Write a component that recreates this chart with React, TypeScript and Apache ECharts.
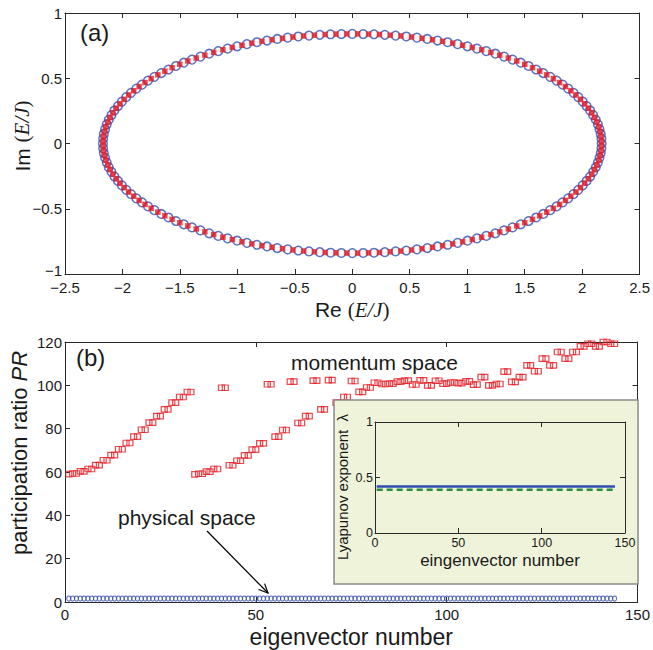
import React, { useEffect, useRef } from "react";
import * as echarts from "echarts";

// ---------- Panel (a): eigenvalues in the complex plane (Re, Im) ----------
const ellipseCircles: [number, number][] = [
  [2.170,0.000],[2.168,0.037],[2.162,0.073],[2.151,0.110],[2.137,0.146],[2.119,0.182],[2.096,0.217],[2.070,0.253],[2.039,0.287],[2.005,0.321],[1.967,0.355],[1.925,0.388],[1.879,0.420],[1.830,0.451],[1.778,0.482],[1.722,0.511],[1.662,0.540],[1.600,0.567],[1.534,0.594],[1.466,0.619],[1.395,0.643],[1.321,0.666],[1.245,0.688],[1.166,0.708],[1.085,0.727],[1.002,0.745],[0.917,0.761],[0.830,0.776],[0.742,0.789],[0.653,0.801],[0.562,0.811],[0.470,0.820],[0.377,0.827],[0.283,0.833],[0.189,0.837],[0.095,0.839],
  [0.000,0.840],[-0.095,0.839],[-0.189,0.837],[-0.283,0.833],[-0.377,0.827],[-0.470,0.820],[-0.562,0.811],[-0.653,0.801],[-0.742,0.789],[-0.830,0.776],[-0.917,0.761],[-1.002,0.745],[-1.085,0.727],[-1.166,0.708],[-1.245,0.688],[-1.321,0.666],[-1.395,0.643],[-1.466,0.619],[-1.534,0.594],[-1.600,0.567],[-1.662,0.540],[-1.722,0.511],[-1.778,0.482],[-1.830,0.451],[-1.879,0.420],[-1.925,0.388],[-1.967,0.355],[-2.005,0.321],[-2.039,0.287],[-2.070,0.253],[-2.096,0.217],[-2.119,0.182],[-2.137,0.146],[-2.151,0.110],[-2.162,0.073],[-2.168,0.037],
  [-2.170,0.000],[-2.168,-0.037],[-2.162,-0.073],[-2.151,-0.110],[-2.137,-0.146],[-2.119,-0.182],[-2.096,-0.217],[-2.070,-0.253],[-2.039,-0.287],[-2.005,-0.321],[-1.967,-0.355],[-1.925,-0.388],[-1.879,-0.420],[-1.830,-0.451],[-1.778,-0.482],[-1.722,-0.511],[-1.662,-0.540],[-1.600,-0.567],[-1.534,-0.594],[-1.466,-0.619],[-1.395,-0.643],[-1.321,-0.666],[-1.245,-0.688],[-1.166,-0.708],[-1.085,-0.727],[-1.002,-0.745],[-0.917,-0.761],[-0.830,-0.776],[-0.742,-0.789],[-0.653,-0.801],[-0.562,-0.811],[-0.470,-0.820],[-0.377,-0.827],[-0.283,-0.833],[-0.189,-0.837],[-0.095,-0.839],
  [0.000,-0.840],[0.095,-0.839],[0.189,-0.837],[0.283,-0.833],[0.377,-0.827],[0.470,-0.820],[0.562,-0.811],[0.653,-0.801],[0.742,-0.789],[0.830,-0.776],[0.917,-0.761],[1.002,-0.745],[1.085,-0.727],[1.166,-0.708],[1.245,-0.688],[1.321,-0.666],[1.395,-0.643],[1.466,-0.619],[1.534,-0.594],[1.600,-0.567],[1.662,-0.540],[1.722,-0.511],[1.778,-0.482],[1.830,-0.451],[1.879,-0.420],[1.925,-0.388],[1.967,-0.355],[2.005,-0.321],[2.039,-0.287],[2.070,-0.253],[2.096,-0.217],[2.119,-0.182],[2.137,-0.146],[2.151,-0.110],[2.162,-0.073],[2.168,-0.037],
];

const ellipseDots: [number, number][] = [
  [2.169,0.018],[2.165,0.055],[2.157,0.091],[2.145,0.128],[2.128,0.164],[2.108,0.200],[2.083,0.235],[2.055,0.270],[2.022,0.304],[1.986,0.338],[1.946,0.372],[1.902,0.404],[1.855,0.436],[1.804,0.467],[1.750,0.497],[1.692,0.526],[1.631,0.554],[1.568,0.581],[1.501,0.607],[1.431,0.632],[1.358,0.655],[1.283,0.677],[1.206,0.698],[1.126,0.718],[1.044,0.736],[0.960,0.753],[0.874,0.769],[0.786,0.783],[0.698,0.795],[0.607,0.806],[0.516,0.816],[0.423,0.824],[0.330,0.830],[0.236,0.835],[0.142,0.838],[0.047,0.840],
  [-2.169,0.018],[-2.165,0.055],[-2.157,0.091],[-2.145,0.128],[-2.128,0.164],[-2.108,0.200],[-2.083,0.235],[-2.055,0.270],[-2.022,0.304],[-1.986,0.338],[-1.946,0.372],[-1.902,0.404],[-1.855,0.436],[-1.804,0.467],[-1.750,0.497],[-1.692,0.526],[-1.631,0.554],[-1.568,0.581],[-1.501,0.607],[-1.431,0.632],[-1.358,0.655],[-1.283,0.677],[-1.206,0.698],[-1.126,0.718],[-1.044,0.736],[-0.960,0.753],[-0.874,0.769],[-0.786,0.783],[-0.698,0.795],[-0.607,0.806],[-0.516,0.816],[-0.423,0.824],[-0.330,0.830],[-0.236,0.835],[-0.142,0.838],[-0.047,0.840],
  [-2.169,-0.018],[-2.165,-0.055],[-2.157,-0.091],[-2.145,-0.128],[-2.128,-0.164],[-2.108,-0.200],[-2.083,-0.235],[-2.055,-0.270],[-2.022,-0.304],[-1.986,-0.338],[-1.946,-0.372],[-1.902,-0.404],[-1.855,-0.436],[-1.804,-0.467],[-1.750,-0.497],[-1.692,-0.526],[-1.631,-0.554],[-1.568,-0.581],[-1.501,-0.607],[-1.431,-0.632],[-1.358,-0.655],[-1.283,-0.677],[-1.206,-0.698],[-1.126,-0.718],[-1.044,-0.736],[-0.960,-0.753],[-0.874,-0.769],[-0.786,-0.783],[-0.698,-0.795],[-0.607,-0.806],[-0.516,-0.816],[-0.423,-0.824],[-0.330,-0.830],[-0.236,-0.835],[-0.142,-0.838],[-0.047,-0.840],
  [2.169,-0.018],[2.165,-0.055],[2.157,-0.091],[2.145,-0.128],[2.128,-0.164],[2.108,-0.200],[2.083,-0.235],[2.055,-0.270],[2.022,-0.304],[1.986,-0.338],[1.946,-0.372],[1.902,-0.404],[1.855,-0.436],[1.804,-0.467],[1.750,-0.497],[1.692,-0.526],[1.631,-0.554],[1.568,-0.581],[1.501,-0.607],[1.431,-0.632],[1.358,-0.655],[1.283,-0.677],[1.206,-0.698],[1.126,-0.718],[1.044,-0.736],[0.960,-0.753],[0.874,-0.769],[0.786,-0.783],[0.698,-0.795],[0.607,-0.806],[0.516,-0.816],[0.423,-0.824],[0.330,-0.830],[0.236,-0.835],[0.142,-0.838],[0.047,-0.840],
];

// ---------- Panel (b): participation ratio vs eigenvector number (1..144) ----------
const momentumPR: number[] = [
  59.0, 59.3, 59.3, 60.3, 60.3, 61.4, 61.4, 63.2, 63.2, 65.4, 65.4, 67.8,
  67.8, 70.5, 70.5, 73.4, 73.4, 76.3, 76.3, 79.5, 79.5, 82.8, 82.8, 85.8,
  85.8, 88.9, 88.9, 92.0, 92.0, 94.6, 94.6, 96.9, 96.9, 58.9, 59.2, 59.2,
  60.2, 60.2, 61.4, 61.4, 98.9, 98.9, 63.1, 63.1, 65.2, 65.2, 67.7, 67.7,
  70.3, 70.3, 73.2, 73.2, 100.5, 100.5, 76.3, 76.3, 79.4, 79.4, 101.7, 101.7,
  82.6, 82.6, 85.8, 85.8, 102.2, 102.2, 88.9, 88.9, 102.4, 102.4, 92.0, 92.0,
  94.6, 94.6, 102.0, 102.0, 97.0, 97.0, 99.0, 99.0, 101.2, 101.2, 100.6, 100.6,
  100.8, 100.8, 101.7, 101.7, 102.2, 102.2, 100.4, 100.4, 102.3, 102.3, 100.0, 100.0,
  102.1, 102.1, 100.8, 100.8, 101.3, 101.3, 101.0, 101.0, 101.8, 101.8, 100.3, 100.3,
  103.8, 103.8, 100.0, 100.0, 100.6, 100.6, 106.3, 106.3, 101.6, 101.6, 103.8, 103.8,
  109.2, 109.2, 106.5, 106.5, 112.3, 112.3, 109.2, 109.2, 115.4, 115.4, 112.3, 112.3,
  115.4, 115.4, 118.0, 118.0, 119.2, 119.2, 118.0, 118.0, 120.0, 120.0, 119.2, 119.2,
];

const physicalPR: number[] = [
  1.6, 1.6, 1.6, 1.6, 1.6, 1.6, 1.6, 1.6, 1.6, 1.6, 1.6, 1.6,
  1.6, 1.6, 1.6, 1.6, 1.6, 1.6, 1.6, 1.6, 1.6, 1.6, 1.6, 1.6,
  1.6, 1.6, 1.6, 1.6, 1.6, 1.6, 1.6, 1.6, 1.6, 1.6, 1.6, 1.6,
  1.6, 1.6, 1.6, 1.6, 1.6, 1.6, 1.6, 1.6, 1.6, 1.6, 1.6, 1.6,
  1.6, 1.6, 1.6, 1.6, 1.6, 1.6, 1.6, 1.6, 1.6, 1.6, 1.6, 1.6,
  1.6, 1.6, 1.6, 1.6, 1.6, 1.6, 1.6, 1.6, 1.6, 1.6, 1.6, 1.6,
  1.6, 1.6, 1.6, 1.6, 1.6, 1.6, 1.6, 1.6, 1.6, 1.6, 1.6, 1.6,
  1.6, 1.6, 1.6, 1.6, 1.6, 1.6, 1.6, 1.6, 1.6, 1.6, 1.6, 1.6,
  1.6, 1.6, 1.6, 1.6, 1.6, 1.6, 1.6, 1.6, 1.6, 1.6, 1.6, 1.6,
  1.6, 1.6, 1.6, 1.6, 1.6, 1.6, 1.6, 1.6, 1.6, 1.6, 1.6, 1.6,
  1.6, 1.6, 1.6, 1.6, 1.6, 1.6, 1.6, 1.6, 1.6, 1.6, 1.6, 1.6,
  1.6, 1.6, 1.6, 1.6, 1.6, 1.6, 1.6, 1.6, 1.6, 1.6, 1.6, 1.6,
];

// ---------- Inset: Lyapunov exponent vs eigenvector number ----------
const lyapunovEigen: number[] = [1, 144];
const lyapunovNumeric: number[] = [0.42, 0.42];
const lyapunovAnalytic: number[] = [0.39, 0.39];

const FONT = "'Liberation Sans', Arial, Helvetica, sans-serif";
const SERIF = "'Liberation Serif', 'Times New Roman', serif";
const AX = "#2a2a2a";
const TXT = "#1a1a1a";

const minus = (v: number) => String(v).replace("-", "\u2212");
// the bottom-left "−1" of panel (a) is lifted a little so it clears "−2.5"
const minusA = (v: number) => (v === -1 ? "{lo|\u22121}" : minus(v));

function xAx(grid: number, min: number, max: number, interval: number, pos: "bottom" | "top", label: boolean, size: number, margin: number, extra: any = {}) {
  return {
    type: "value", gridIndex: grid, min, max, interval, position: pos,
    axisLine: { show: true, onZero: false, lineStyle: { color: AX, width: 1 } },
    axisTick: { show: true, inside: true, length: 5, lineStyle: { color: AX, width: 1 } },
    axisLabel: { show: label, fontSize: size, color: TXT, fontFamily: FONT, margin, formatter: minus, showMinLabel: true, showMaxLabel: true },
    splitLine: { show: false },
    ...extra,
  };
}
function yAx(grid: number, min: number, max: number, interval: number, pos: "left" | "right", label: boolean, size: number, margin: number, extra: any = {}, fmt: any = minus) {
  return {
    type: "value", gridIndex: grid, min, max, interval, position: pos,
    axisLine: { show: true, onZero: false, lineStyle: { color: AX, width: 1 } },
    axisTick: { show: true, inside: true, length: 5, lineStyle: { color: AX, width: 1 } },
    axisLabel: {
      show: label, fontSize: size, color: TXT, fontFamily: FONT, margin, formatter: fmt, showMinLabel: true, showMaxLabel: true,
      rich: { lo: { fontSize: size, fontFamily: FONT, color: TXT, padding: [0, 0, 7, 0] } },
    },
    splitLine: { show: false },
    ...extra,
  };
}

export default function App() {
  const ref = useRef<HTMLDivElement>(null);
  useEffect(() => {
    const chart = echarts.init(ref.current!, null, { renderer: "svg" });
    const inZ = { z: 10 };
    const option: any = {
      animation: false,
      backgroundColor: "#ffffff",
      grid: [
        { left: 65, top: 13, width: 576, height: 261 },
        { left: 65, top: 342, width: 576, height: 260 },
        { left: 375, top: 422, width: 250, height: 111, z: 10 },
      ],
      xAxis: [
        xAx(0, -2.5, 2.5, 0.5, "bottom", true, 15, 6, {
          name: "Re {t|(}{i|E/J}{t|)}", nameLocation: "middle", nameGap: 25,
          nameTextStyle: {
            fontSize: 21, fontFamily: FONT, color: TXT,
            rich: { t: { fontSize: 21, fontFamily: SERIF, color: TXT }, i: { fontSize: 21, fontFamily: SERIF, fontStyle: "italic", color: TXT } },
          },
        }),
        xAx(0, -2.5, 2.5, 0.5, "top", false, 15, 5),
        xAx(1, 0, 150, 50, "bottom", true, 15, 5, {
          name: "eigenvector number", nameLocation: "middle", nameGap: 23,
          nameTextStyle: { fontSize: 23, fontFamily: FONT, color: TXT },
        }),
        xAx(1, 0, 150, 50, "top", false, 15, 5),
        xAx(2, 0, 150, 50, "bottom", true, 12.5, 3, {
          ...inZ, name: "eingenvector number", nameLocation: "middle", nameGap: 19,
          nameTextStyle: { fontSize: 17, fontFamily: FONT, color: TXT },
        }),
        xAx(2, 0, 150, 50, "top", false, 12.5, 3, inZ),
      ],
      yAxis: [
        yAx(0, -1, 1, 0.5, "left", true, 15, 3, {}, minusA),
        yAx(0, -1, 1, 0.5, "right", false, 15, 3),
        yAx(1, 0, 120, 20, "left", true, 15, 3),
        yAx(1, 0, 120, 20, "right", false, 15, 3),
        yAx(2, 0, 1, 0.5, "left", true, 12.5, 2, inZ),
        yAx(2, 0, 1, 0.5, "right", false, 12.5, 2, inZ),
      ],
      graphic: [
        { type: "rect", z: 5, shape: { x: 334, y: 400, width: 304, height: 184 }, style: { fill: "#eff3d9", stroke: "#8a8a8a", lineWidth: 1.5 } },
        { type: "text", z: 20, x: 80, y: 32, style: { text: "(a)", fontSize: 24, fontFamily: FONT, fill: TXT, verticalAlign: "middle", align: "left" } },
        { type: "text", z: 20, x: 76, y: 357, style: { text: "(b)", fontSize: 24, fontFamily: FONT, fill: TXT, verticalAlign: "middle", align: "left" } },
        { type: "text", z: 20, x: 291, y: 362, style: { text: "momentum space", fontSize: 21, fontFamily: FONT, fill: TXT, verticalAlign: "middle", align: "left" } },
        { type: "text", z: 20, x: 118, y: 517, style: { text: "physical space", fontSize: 21, fontFamily: FONT, fill: TXT, verticalAlign: "middle", align: "left" } },
        { type: "line", z: 20, shape: { x1: 207, y1: 531, x2: 268, y2: 593 }, style: { stroke: "#000", lineWidth: 1.2 } },
        { type: "polyline", z: 20, shape: { points: [[264.6, 583.6], [268, 593], [258.6, 589.5]] }, style: { stroke: "#000", lineWidth: 1.2, fill: "none" } },
        {
          type: "text", z: 20, x: 22, y: 136, rotation: Math.PI / 2,
          style: {
            text: "Im {t|(}{i|E/J}{t|)}", fontSize: 21, fontFamily: FONT, fill: TXT, align: "center", verticalAlign: "middle",
            rich: { t: { fontSize: 21, fontFamily: SERIF, fill: TXT }, i: { fontSize: 21, fontFamily: SERIF, fontStyle: "italic", fill: TXT } },
          },
        },
        {
          type: "text", z: 20, x: 19, y: 453, rotation: Math.PI / 2,
          style: {
            text: "participation ratio {i|PR}", fontSize: 22, fontFamily: FONT, fill: TXT, align: "center", verticalAlign: "middle",
            rich: { i: { fontSize: 22, fontFamily: FONT, fontStyle: "italic", fill: TXT } },
          },
        },
        {
          type: "text", z: 20, x: 342, y: 487, rotation: Math.PI / 2,
          style: { text: "Lyapunov exponent  \u03bb", fontSize: 15, fontFamily: FONT, fill: TXT, align: "center", verticalAlign: "middle" },
        },
      ],
      series: [
        {
          type: "scatter", xAxisIndex: 0, yAxisIndex: 0, data: ellipseCircles,
          symbol: "circle", symbolSize: 8.6,
          itemStyle: { color: "rgba(255,255,255,0)", borderColor: "#2f52b4", borderWidth: 1.5 },
        },
        {
          type: "scatter", xAxisIndex: 0, yAxisIndex: 0, data: ellipseDots,
          symbol: "rect", symbolSize: 5.5,
          itemStyle: { color: "#ec1c24" },
        },
        {
          type: "scatter", xAxisIndex: 2, yAxisIndex: 2, data: momentumPR.map((v, i) => [i + 1, v]),
          symbol: "rect", symbolSize: [6, 5.5],
          itemStyle: { color: "rgba(255,255,255,0)", borderColor: "#e41e26", borderWidth: 1.2 },
        },
        {
          type: "scatter", xAxisIndex: 2, yAxisIndex: 2, data: physicalPR.map((v, i) => [i + 1, v]),
          symbol: "circle", symbolSize: [4.2, 5],
          itemStyle: { color: "rgba(255,255,255,0)", borderColor: "#3850b0", borderWidth: 1.1 },
        },
        {
          type: "line", xAxisIndex: 4, yAxisIndex: 4, z: 12, showSymbol: false,
          data: lyapunovEigen.map((x, i) => [x, lyapunovNumeric[i]]),
          lineStyle: { color: "#2f4fb0", width: 2.5 },
        },
        {
          type: "line", xAxisIndex: 4, yAxisIndex: 4, z: 12, showSymbol: false,
          data: lyapunovEigen.map((x, i) => [x, lyapunovAnalytic[i]]),
          lineStyle: { color: "#2a8c3c", width: 2.5, type: [6, 4] },
        },
      ],
    };
    chart.setOption(option);
    return () => chart.dispose();
  }, []);
  return (
    <div
      ref={ref}
      style={{ position: "fixed", left: 0, top: 0, width: 653, height: 650, background: "#fff" }}
    />
  );
}
